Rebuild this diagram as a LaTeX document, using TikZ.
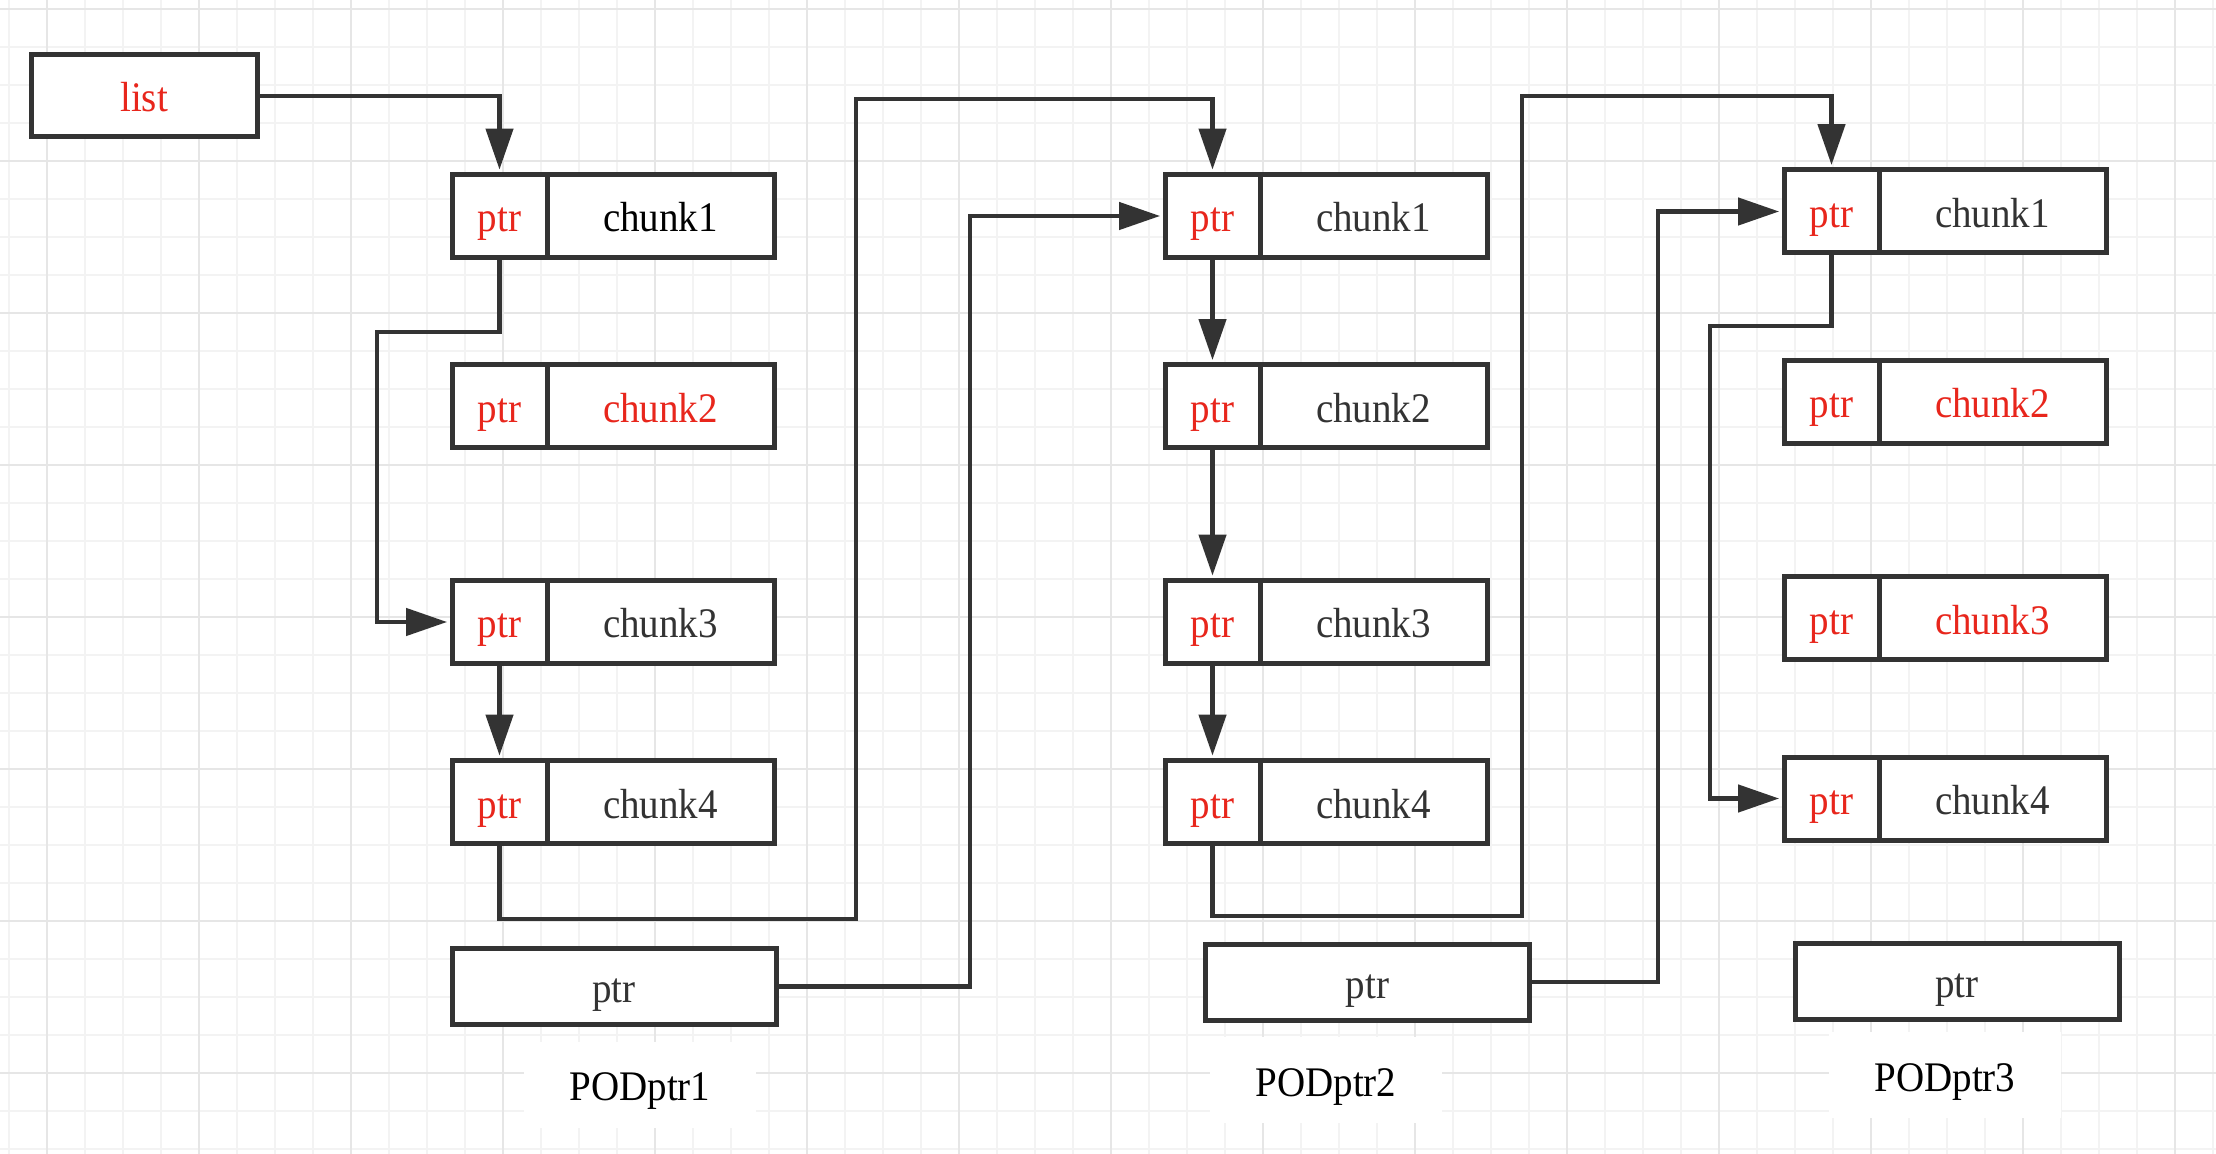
\documentclass[tikz,border=0pt]{standalone}
\usepackage{fontspec}
\setmainfont{Liberation Serif}
\usetikzlibrary{arrows.meta}
\definecolor{ln}{HTML}{333333}
\definecolor{rd}{RGB}{232,38,28}
\definecolor{gminor}{HTML}{F3F3F3}
\definecolor{gmajor}{HTML}{E6E6E6}
\newcommand\vs[1]{\scalebox{1}[1.08]{#1}}
\begin{document}
\begin{tikzpicture}[x=0.5pt,y=-0.5pt,
  cell/.style={draw=ln, line width=2.5pt, fill=white, inner sep=0pt,
    minimum height=41.5pt, text height=16pt, text depth=0pt,
    font=\fontsize{19.5}{20}\selectfont, text=ln},
  pcell/.style={cell, minimum width=47.5pt, text=rd},
  ccell/.style={cell, minimum width=113.5pt},
  wide/.style={cell, minimum width=162pt, minimum height=38pt},
  lab/.style={fill=white, inner sep=0pt, minimum width=116pt, minimum height=43pt,
    text height=16pt, text depth=0pt, font=\fontsize{19.5}{20}\selectfont, text=black},
  conn/.style={draw=ln, line width=2.25pt},
  arr/.style={conn, -{Triangle[length=20.5pt,width=13.5pt]}, shorten >=1.2pt}]
\useasboundingbox (0,0) rectangle (2216,1154);
\fill[white] (0,0) rectangle (2216,1154);
% grid
\foreach \i in {0,...,58} \draw[gminor, line width=1pt] ({9+38*\i},0) -- ({9+38*\i},1154);
\foreach \i in {0,...,30} \draw[gminor, line width=1pt] (0,{9+38*\i}) -- (2216,{9+38*\i});
\foreach \i in {0,...,14} \draw[gmajor, line width=1pt] ({47+152*\i},0) -- ({47+152*\i},1154);
\foreach \i in {0,...,7} \draw[gmajor, line width=1pt] (0,{9+152*\i}) -- (2216,{9+152*\i});

% list
\node[cell, minimum width=113pt, minimum height=41pt, text=rd] (list) at (144,96) {\vs{list}};

% column 1
\node[pcell] (c1p1) at (499.5,216) {\vs{ptr}};
\node[ccell, text=black] (c1c1) at (660.5,216) {\vs{chunk1}};
\node[pcell] (c1p2) at (499.5,406.5) {\vs{ptr}};
\node[ccell, text=rd] (c1c2) at (660.5,406.5) {\vs{chunk2}};
\node[pcell] (c1p3) at (499.5,622) {\vs{ptr}};
\node[ccell] (c1c3) at (660.5,622) {\vs{chunk3}};
\node[pcell] (c1p4) at (499.5,802) {\vs{ptr}};
\node[ccell] (c1c4) at (660.5,802) {\vs{chunk4}};
\node[wide] (w1) at (614,986.5) {\vs{ptr}};
\node[lab] (l1) at (640,1084.5) {\vs{PODptr1}};

% column 2
\node[pcell] (c2p1) at (1212.5,216) {\vs{ptr}};
\node[ccell] (c2c1) at (1373.5,216) {\vs{chunk1}};
\node[pcell] (c2p2) at (1212.5,406.5) {\vs{ptr}};
\node[ccell] (c2c2) at (1373.5,406.5) {\vs{chunk2}};
\node[pcell] (c2p3) at (1212.5,622) {\vs{ptr}};
\node[ccell] (c2c3) at (1373.5,622) {\vs{chunk3}};
\node[pcell] (c2p4) at (1212.5,802) {\vs{ptr}};
\node[ccell] (c2c4) at (1373.5,802) {\vs{chunk4}};
\node[wide] (w2) at (1367.5,982) {\vs{ptr}};
\node[lab] (l2) at (1326,1080) {\vs{PODptr2}};

% column 3
\node[pcell] (c3p1) at (1831.5,211.5) {\vs{ptr}};
\node[ccell] (c3c1) at (1992.5,211.5) {\vs{chunk1}};
\node[pcell] (c3p2) at (1831.5,402) {\vs{ptr}};
\node[ccell, text=rd] (c3c2) at (1992.5,402) {\vs{chunk2}};
\node[pcell] (c3p3) at (1831.5,618) {\vs{ptr}};
\node[ccell, text=rd] (c3c3) at (1992.5,618) {\vs{chunk3}};
\node[pcell] (c3p4) at (1831.5,798.5) {\vs{ptr}};
\node[ccell] (c3c4) at (1992.5,798.5) {\vs{chunk4}};
\node[wide] (w3) at (1957,981) {\vs{ptr}};
\node[lab] (l3) at (1945,1075) {\vs{PODptr3}};

% bend points
\coordinate (b1) at (377,332);
\coordinate (b2) at (856,919);
\coordinate (b3) at (856,99);
\coordinate (b4) at (970,986.5);
\coordinate (b5) at (1522,916);
\coordinate (b6) at (1522,96);
\coordinate (b7) at (1658,982);
\coordinate (b8) at (1710,326);

% connectors
\draw[arr] (list.east) -| (c1p1.north);
\draw[arr] (c1p1.south) |- (b1) |- (c1p3.west);
\draw[arr] (c1p3.south) -- (c1p4.north);
\draw[arr] (c1p4.south) |- (b2) -- (b3) -| (c2p1.north);
\draw[arr] (w1.east) -- (b4) |- (c2p1.west);
\draw[arr] (c2p1.south) -- (c2p2.north);
\draw[arr] (c2p2.south) -- (c2p3.north);
\draw[arr] (c2p3.south) -- (c2p4.north);
\draw[arr] (c2p4.south) |- (b5) -- (b6) -| (c3p1.north);
\draw[arr] (w2.east) -- (b7) |- (c3p1.west);
\draw[arr] (c3p1.south) |- (b8) |- (c3p4.west);
\end{tikzpicture}
\end{document}
